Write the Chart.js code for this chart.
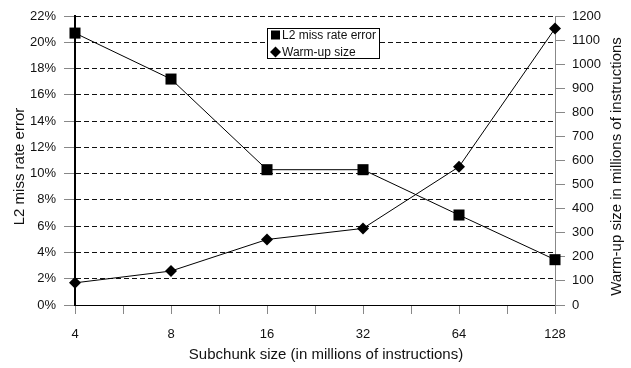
<!DOCTYPE html>
<html>
<head>
<meta charset="utf-8">
<script src="https://cdn.jsdelivr.net/npm/chart.js@4/dist/chart.umd.min.js"></script>
<style>
  html, body { margin: 0; padding: 0; background: #fff; }
  #wrap { width: 631px; height: 368px; position: relative; }
</style>
</head>
<body>
<div id="wrap"><canvas id="myChart"></canvas></div>
<script>
// subchunk sizes (millions of instructions)
const subchunks = [4, 8, 16, 32, 64, 128];
// L2 miss rate error, percent
const missError = [20.7, 17.2, 10.3, 10.3, 6.85, 3.45];
// warm-up size, millions of instructions
const warmup = [92, 141, 272, 318, 574, 1148];

const FONT = "'Liberation Sans', Arial, sans-serif";

// x is placed on log2 of the subchunk size so each doubling is one step
function toPoints(vals) {
    return subchunks.map((s, i) => ({ x: Math.log2(s), y: vals[i] }));
}

// axis titles and the boxed legend
const decorations = {
    id: 'decorations',
    afterDraw(chart) {
        const ctx = chart.ctx;
        const area = chart.chartArea;
        ctx.save();
        ctx.fillStyle = '#111';
        ctx.font = '15px ' + FONT;
        ctx.textAlign = 'center';
        ctx.textBaseline = 'middle';
        const midY = (area.top + area.bottom) / 2 + 6;

        ctx.fillText('Subchunk size (in millions of instructions)', (area.left + area.right) / 2 + 11, 355);

        ctx.save();
        ctx.translate(20, midY);
        ctx.rotate(-Math.PI / 2);
        ctx.fillText('L2 miss rate error', 0, 0);
        ctx.restore();

        ctx.save();
        ctx.translate(617, midY);
        ctx.rotate(-Math.PI / 2);
        ctx.fillText('Warm-up size in millions of instructions', 0, 0);
        ctx.restore();

        // legend
        const lx = 267, ly = 28, lw = 112, lh = 30;
        ctx.fillStyle = '#fff';
        ctx.fillRect(lx, ly, lw, lh);
        ctx.strokeStyle = '#000';
        ctx.lineWidth = 1;
        ctx.strokeRect(lx + 0.5, ly + 0.5, lw, lh);
        ctx.font = '12px ' + FONT;
        ctx.textAlign = 'left';
        chart.data.datasets.forEach((ds, i) => {
            const cy = 35 + i * 17;
            const cx = 275.5;
            ctx.fillStyle = '#000';
            ctx.beginPath();
            if (ds.pointStyle === 'rect') {
                ctx.rect(cx - 4.5, cy - 4.5, 9, 9);
            } else {
                ctx.moveTo(cx, cy - 5.5);
                ctx.lineTo(cx + 5.5, cy);
                ctx.lineTo(cx, cy + 5.5);
                ctx.lineTo(cx - 5.5, cy);
                ctx.closePath();
            }
            ctx.fill();
            ctx.fillStyle = '#111';
            ctx.fillText(ds.label, 282, cy + 0.5);
        });
        ctx.restore();
    }
};

const data = {
    datasets: [{
        label: 'L2 miss rate error',
        data: toPoints(missError),
        yAxisID: 'y',
        borderColor: '#000',
        borderWidth: 1,
        backgroundColor: '#000',
        pointStyle: 'rect',
        pointRadius: 7.8,
        pointHoverRadius: 7.8,
        pointBorderWidth: 0,
        clip: false,
    }, {
        label: 'Warm-up size',
        data: toPoints(warmup),
        yAxisID: 'y1',
        borderColor: '#000',
        borderWidth: 1,
        backgroundColor: '#000',
        pointStyle: 'rectRot',
        pointRadius: 6,
        pointHoverRadius: 6,
        pointBorderWidth: 0,
        clip: false,
    }]
};

const config = {
    type: 'line',
    data: data,
    options: {
        responsive: true,
        maintainAspectRatio: false,
        animation: false,
        layout: { padding: { top: 16, left: 0, right: 0, bottom: 0 } },
        plugins: {
            legend: { display: false },
            tooltip: { enabled: false },
        },
        scales: {
            x: {
                type: 'linear',
                min: 2,
                max: 7,
                afterFit(scale) { scale.height = 63; },
                ticks: {
                    stepSize: 0.5,
                    autoSkip: false,
                    maxRotation: 0,
                    padding: 13,
                    color: '#111',
                    font: { family: FONT, size: 13 },
                    callback: (v) => Number.isInteger(v) ? String(2 ** v) : '',
                },
                grid: {
                    drawOnChartArea: false,
                    tickLength: 9,
                    tickColor: '#888',
                    color: '#888',
                },
                border: { color: '#000', width: 1 },
            },
            y: {
                position: 'left',
                min: 0,
                max: 22,
                afterFit(scale) { scale.width = 75; },
                ticks: {
                    stepSize: 2,
                    padding: 8,
                    color: '#111',
                    font: { family: FONT, size: 13 },
                    callback: (v) => v + '%',
                },
                grid: {
                    color: '#111',
                    tickLength: 11,
                    tickColor: '#888',
                    tickBorderDash: [],
                },
                border: { color: '#000', width: 2, dash: [5, 3] },
            },
            y1: {
                position: 'right',
                min: 0,
                max: 1200,
                afterFit(scale) { scale.width = 76; },
                ticks: {
                    stepSize: 100,
                    padding: 7,
                    color: '#111',
                    font: { family: FONT, size: 13 },
                    callback: (v) => String(v),
                },
                grid: {
                    drawOnChartArea: false,
                    tickLength: 10,
                    tickColor: '#888',
                },
                border: { color: '#888', width: 1 },
            }
        }
    },
    plugins: [decorations]
};

const myChart = new Chart(document.getElementById('myChart'), config);
</script>
</body>
</html>
